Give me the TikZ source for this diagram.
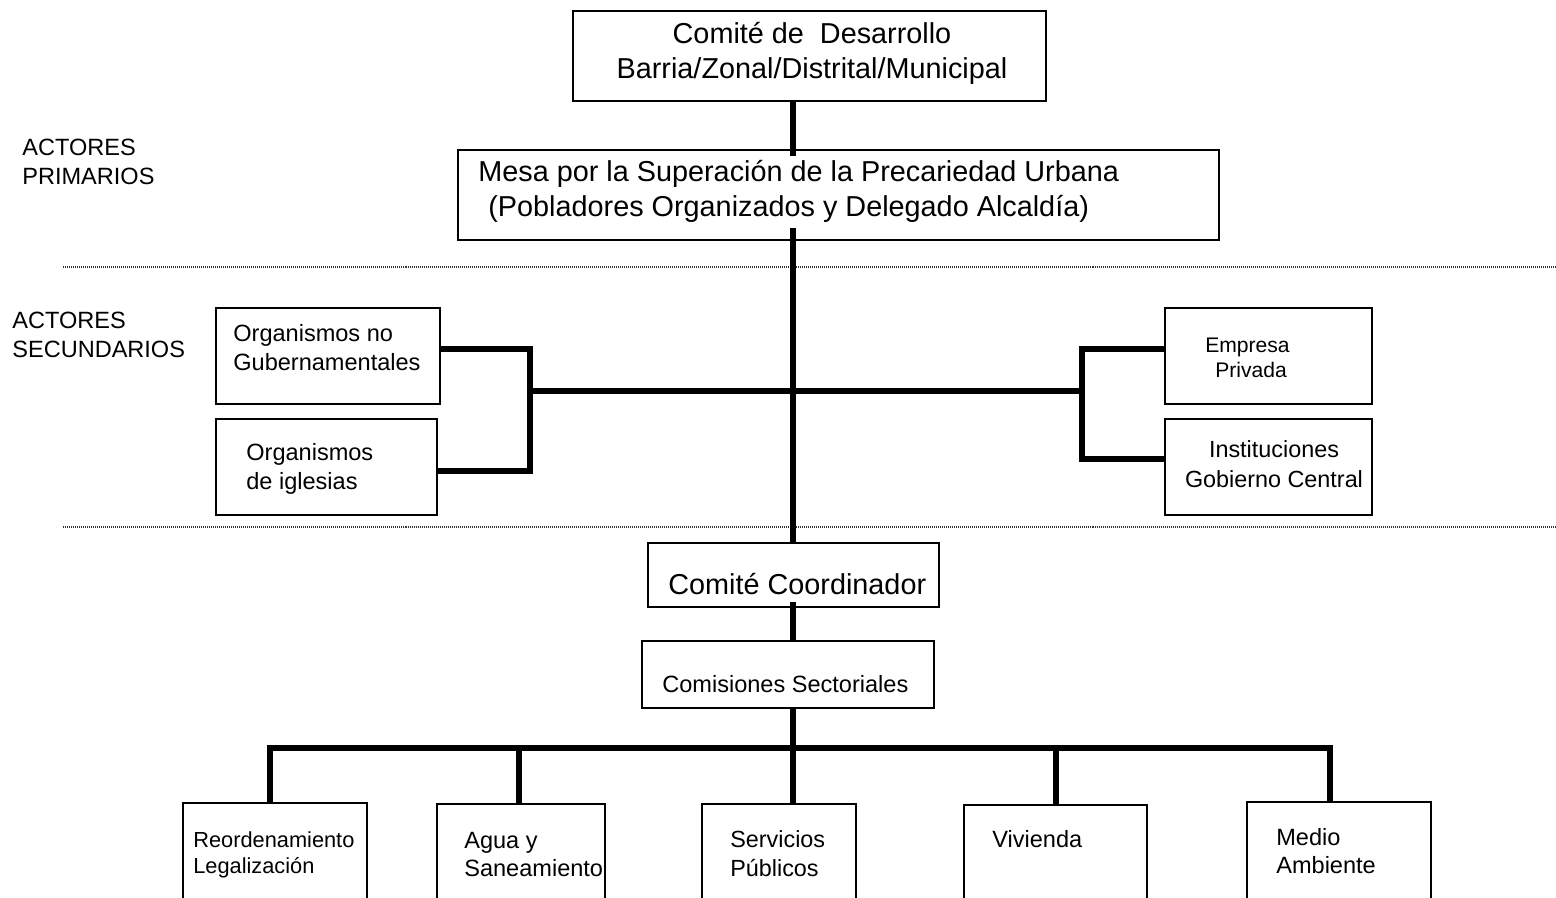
\documentclass[tikz,border=0pt]{standalone}
\usepackage{fontspec}
\setmainfont{Liberation Sans}
\usetikzlibrary{fit}
\begin{document}
\begin{tikzpicture}[x=0.02cm, y=-0.02cm,
  box/.style={draw, line width=1.1pt, inner sep=0pt},
  conn/.style={line width=3.1pt},
  sepline/.style={line width=0.6pt, black!80, dash pattern=on 0.57pt off 0.57pt},
  txt/.style={inner sep=0pt, align=left, anchor=west},
  ctxt/.style={inner sep=0pt, align=center},
  big/.style={font=\fontsize{16.4}{19.8}\selectfont},
  small/.style={font=\fontsize{13.4}{16.4}\selectfont}]

% page frame
\useasboundingbox (0,0) rectangle (1556,897);
\clip (0,0) rectangle (1556,897);
\fill[white] (0,0) rectangle (1556,897);

% level separators
\draw[sepline] (63,267) -- (1556,267);
\draw[sepline] (63,527) -- (1556,527);

% level labels
\node[txt, small] (lprim) at (22,161.5) {ACTORES\\PRIMARIOS};
\node[txt, small] (lsec) at (12,334.5) {ACTORES\\SECUNDARIOS};

% primary actors
\node[box, fit={(573,11) (1046,101)}] (top) {};
\node[ctxt, big] (topt) at (812,53.5) {Comité de\ \ Desarrollo\\Barria/Zonal/Distrital/Municipal};

\node[box, fit={(458,150) (1219,240)}] (mesa) {};
\node[txt, big] (mesat) at (478,191.5) {Mesa por la Superación de la Precariedad Urbana\\\hspace*{5.7pt}(Pobladores Organizados y Delegado Alcaldía)};

% secondary actors, left
\node[box, fit={(216,308) (440,404)}] (ong) {};
\node[txt, small] (ongt) at (233,347.5) {Organismos no\\Gubernamentales};
\node[box, fit={(216,419) (437,515)}] (igl) {};
\node[txt, small] (iglt) at (246,469) {Organismos\\de iglesias};

% secondary actors, right
\node[box, fit={(1165,308) (1372,404)}] (emp) {};
\node[txt, font=\fontsize{12}{14.2}\selectfont] (empt) at (1205,357.5) {Empresa\\\hspace*{5.7pt}Privada};
\node[box, fit={(1165,419) (1372,515)}] (ins) {};
\node[ctxt, font=\fontsize{13.3}{17}\selectfont] (inst) at (1274,464.5) {Instituciones\\Gobierno Central};

% coordination
\node[box, fit={(648,543) (939,607)}] (coord) {};
\node[txt, big] (coordt) at (668,584) {Comité Coordinador};
\node[box, fit={(642,641) (934,708)}] (com) {};
\node[txt, small] (comt) at (662,684) {Comisiones Sectoriales};

% sector commissions
\node[box, fit={(183,803) (367,930)}] (reo) {};
\node[txt, font=\fontsize{12.4}{14.7}\selectfont] (reot) at (193,855) {Reordenamiento\\Legalización};
\node[box, fit={(437,804) (605,930)}] (agua) {};
\node[txt, font=\fontsize{13.4}{15.9}\selectfont] (aguat) at (464,854.5) {Agua y\\Saneamiento};
\node[box, fit={(702,804) (856,930)}] (serv) {};
\node[txt, font=\fontsize{13.3}{16.4}\selectfont] (servt) at (730,853.5) {Servicios\\Públicos};
\node[box, fit={(964,805) (1147,930)}] (viv) {};
\node[txt, small] (vivt) at (992,839) {Vivienda};
\node[box, fit={(1247,802) (1431,930)}] (med) {};
\node[txt, font=\fontsize{13.4}{15.9}\selectfont] (medt) at (1276,851) {Medio\\Ambiente};

% connector reference points
\coordinate (spine) at (793,0);
\coordinate (bl) at (530,391);
\coordinate (br) at (1082,391);
\coordinate (ongR) at (440,349);
\coordinate (iglR) at (437,471);
\coordinate (empL) at (1165,349);
\coordinate (insL) at (1165,459);
\coordinate (bus) at (793,748);
\coordinate (reoT) at (270,803);
\coordinate (aguaT) at (519,804);
\coordinate (servT) at (793,804);
\coordinate (vivT) at (1056,805);
\coordinate (medT) at (1330,802);

% main spine
\draw[conn] (top.south -| spine) -- ([yshift=-0.14cm]mesa.north -| spine);
\draw[conn] ([yshift=0.26cm]mesa.south -| spine) -- (coord.north -| spine);
\draw[conn] ([yshift=0.12cm]coord.south -| spine) -- (com.north -| spine);
\draw[conn] (com.south -| spine) -- (bus);

% secondary actor brackets
\draw[conn] (bl) -- (br);
\draw[conn] (ongR) -| (bl) |- (iglR);
\draw[conn] (empL) -| (br) |- (insL);

% commission bus
\draw[conn] (reoT) -- (reoT |- bus) -- (medT |- bus) -- (medT);
\draw[conn] (aguaT) -- (aguaT |- bus);
\draw[conn] (servT) -- (bus);
\draw[conn] (vivT) -- (vivT |- bus);
\end{tikzpicture}
\end{document}
